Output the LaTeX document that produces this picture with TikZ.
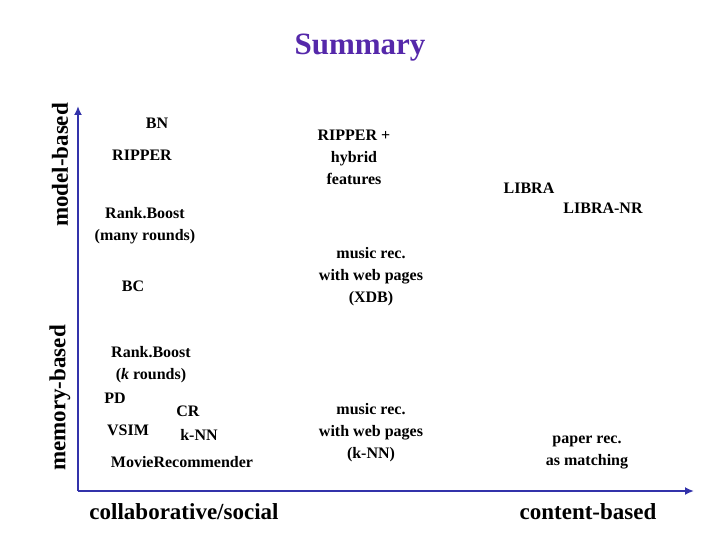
\documentclass[tikz,border=0pt]{standalone}
\usepackage{fontspec}
\setmainfont{Liberation Serif}
\definecolor{axisblue}{RGB}{50,50,170}
\definecolor{titlec}{RGB}{85,40,170}
\begin{document}
\begin{tikzpicture}[x=1pt,y=-1pt,
  lbl/.style={font=\bfseries\fontsize{16}{22}\selectfont,align=center,inner sep=0pt},
  axlbl/.style={font=\bfseries\fontsize{23}{26}\selectfont,inner sep=0pt},
  axisline/.style={draw=axisblue,line width=2.5pt,-{Latex[length=9pt,width=8pt]}}]
\useasboundingbox (0,0) rectangle (720,540);
\usetikzlibrary{arrows.meta}
\node[font=\bfseries\fontsize{31}{34}\selectfont,text=titlec] (title) at (360,48) {Summary};
\coordinate (o) at (78,491);
\coordinate (ytip) at (78,106);
\coordinate (xtip) at (694,491);
\draw[axisline] (o) -- (ytip);
\draw[axisline] (o) -- (xtip);
\node[axlbl,rotate=90] (mb) at (60,165) {model-based};
\node[axlbl,rotate=90] (memb) at (60,398) {memory-based};
\node[axlbl] (cs) at (184,512) {collaborative/social};
\node[axlbl] (cb) at (588,512) {content-based};
\node[lbl] (bn) at (157,123) {BN};
\node[lbl] (rip) at (142,155) {RIPPER};
\node[lbl] (rbm) at (145,226) {Rank.Boost\\(many rounds)};
\node[lbl] (bc) at (133,286) {BC};
\node[lbl] (rbk) at (151,365) {Rank.Boost\\(\textit{k} rounds)};
\node[lbl] (pd) at (115,398) {PD};
\node[lbl] (cr) at (188,411) {CR};
\node[lbl] (vsim) at (128,430) {VSIM};
\node[lbl] (knn) at (199,435) {k-NN};
\node[lbl] (movie) at (182,462) {MovieRecommender};
\node[lbl] (riph) at (354,157) {RIPPER +\\hybrid\\features};
\node[lbl] (libra) at (529,188) {LIBRA};
\node[lbl] (libranr) at (603,208) {LIBRA-NR};
\node[lbl] (xdb) at (371,277) {music rec.\\with web pages\\(XDB)};
\node[lbl] (mknn) at (371,433) {music rec.\\with web pages\\(k-NN)};
\node[lbl] (paper) at (587,452) {paper rec.\\as matching};
\end{tikzpicture}
\end{document}
